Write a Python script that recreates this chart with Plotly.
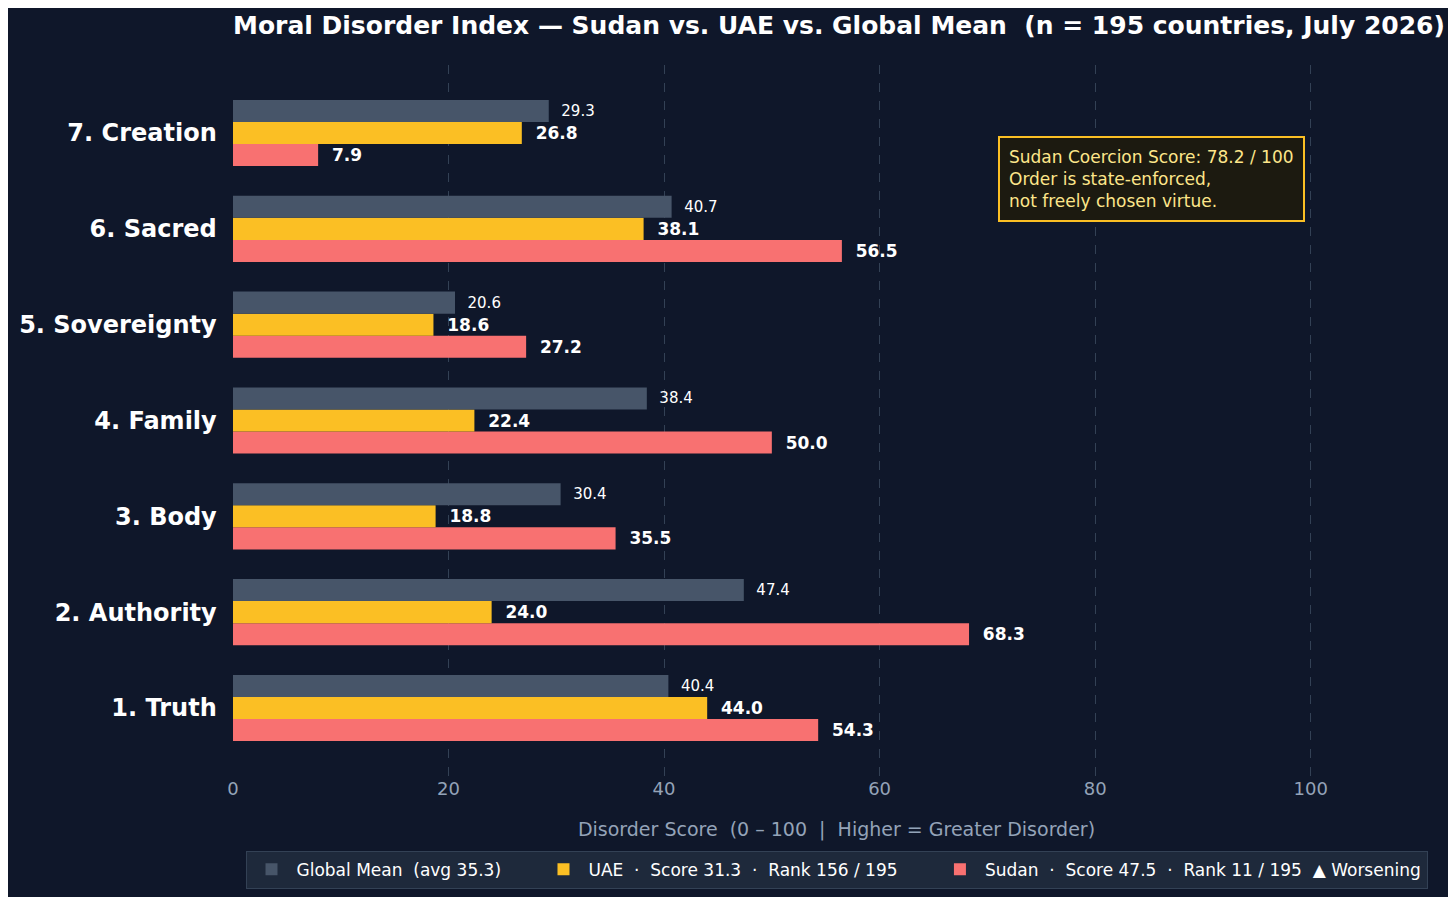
import plotly.graph_objects as go

categories = ["1. Truth", "2. Authority", "3. Body", "4. Family", "5. Sovereignty", "6. Sacred", "7. Creation"]
global_mean = [40.4, 47.4, 30.4, 38.4, 20.6, 40.7, 29.3]
uae = [44.0, 24.0, 18.8, 22.4, 18.6, 38.1, 26.8]
sudan = [54.3, 68.3, 35.5, 50.0, 27.2, 56.5, 7.9]

bg = "#0f172a"
fig = go.Figure()
# first trace sits at the bottom of each group
fig.add_trace(go.Bar(y=categories, x=sudan, orientation="h", marker_color="#f87171",
                     name="Sudan  ·  Score 47.5  ·  Rank 11 / 195  ▲ Worsening",
                     text=[f"  <b>{v:.1f}</b>" for v in sudan], textposition="outside",
                     textfont=dict(color="white", size=17), cliponaxis=False))
fig.add_trace(go.Bar(y=categories, x=uae, orientation="h", marker_color="#fbbf24",
                     name="UAE  ·  Score 31.3  ·  Rank 156 / 195      ",
                     text=[f"  <b>{v:.1f}</b>" for v in uae], textposition="outside",
                     textfont=dict(color="white", size=17), cliponaxis=False))
fig.add_trace(go.Bar(y=categories, x=global_mean, orientation="h", marker_color="#475569",
                     name="Global Mean  (avg 35.3)      ",
                     text=[f"  {v:.1f}" for v in global_mean], textposition="outside",
                     textfont=dict(color="white", size=15), cliponaxis=False))

fig.update_traces(marker_line_width=0)
fig.update_layout(
    width=1440, height=889, barmode="group", bargap=0.31, bargroupgap=0,
    paper_bgcolor=bg, plot_bgcolor=bg,
    font=dict(family="DejaVu Sans", color="white"),
    margin=dict(l=225, r=8, t=57, b=112),
    title=dict(text="<b>Moral Disorder Index — Sudan vs. UAE vs. Global Mean  (n = 195 countries, July 2026)</b>",
               x=225 / 1440, xanchor="left", y=0.99, font=dict(size=25, color="white")),
    xaxis=dict(range=[0, 112], tickvals=[0, 20, 40, 60, 80, 100], showgrid=True,
               gridcolor="#334155", griddash="dash", gridwidth=1, zeroline=False,
               tickfont=dict(color="#94a3b8", size=18), ticks="", ticklen=6,
               title=dict(text="Disorder Score  (0 – 100  |  Higher = Greater Disorder)",
                          font=dict(color="#94a3b8", size=19), standoff=24)),
    yaxis=dict(showgrid=False, tickfont=dict(color="white", size=24),
               range=[-0.71, 6.71]),
    legend=dict(orientation="h", traceorder="reversed", x=0.5, xanchor="center", y=-0.105,
                yanchor="top", bgcolor="#1e293b", bordercolor="#334155", borderwidth=1,
                itemwidth=40, font=dict(size=17, color="white")),
    annotations=[dict(xref="x", yref="paper", x=71, y=0.9, xanchor="left", yanchor="top",
                      align="left", showarrow=False,
                      text="Sudan Coercion Score: 78.2 / 100<br>Order is state-enforced,<br>not freely chosen virtue.",
                      font=dict(color="#fde68a", size=17), bgcolor="#1c1a10",
                      bordercolor="#fbbf24", borderwidth=2, borderpad=9)],
)
fig.update_yaxes(tickprefix="<b>", ticksuffix="</b>  ")
fig.write_html("out.html")
